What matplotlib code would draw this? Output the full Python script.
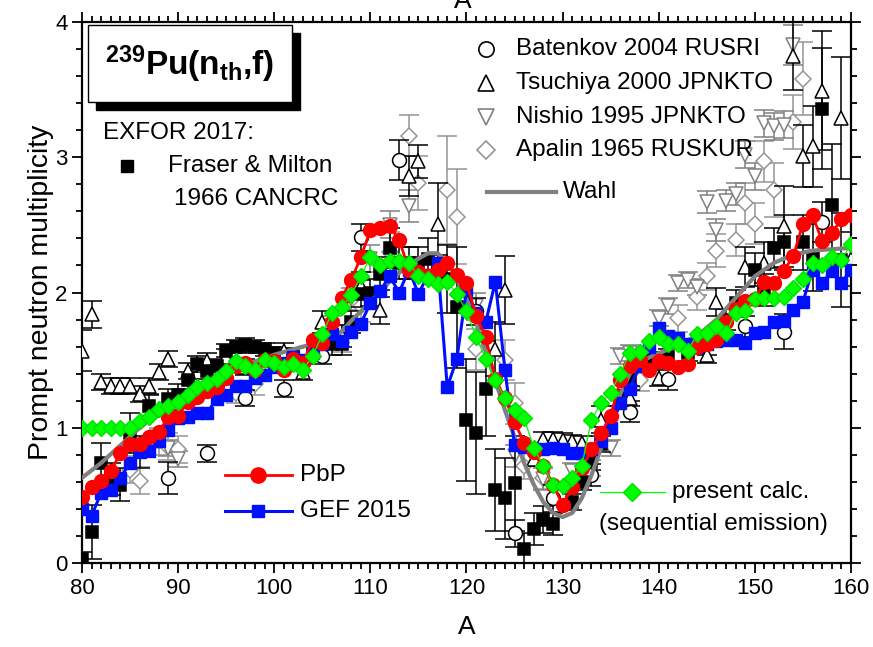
import matplotlib
matplotlib.use("Agg")
import matplotlib.pyplot as plt
from matplotlib.patches import Rectangle

plt.rcParams["font.family"] = ["Liberation Sans", "DejaVu Sans"]
plt.rcParams["mathtext.fontset"] = "custom"
plt.rcParams["mathtext.rm"] = "Liberation Sans"
plt.rcParams["mathtext.bf"] = "Liberation Sans:bold"

# ---- experimental data (EXFOR) ----
FRASER_A = [80, 81, 82, 83, 84, 85, 86, 87, 89, 90, 91, 92, 93, 94, 95, 96, 97, 98, 99, 100,
            102, 104, 106, 107, 108, 109, 110, 111, 112, 113, 114, 115, 116, 118, 119, 120,
            121, 122, 123, 124, 125, 126, 127, 128, 129, 131, 132, 133, 134, 136, 137, 139,
            141, 143, 145, 147, 148, 150, 151, 152, 153, 155, 156, 157, 158, 159]
FRASER_V = [0.03, 0.23, 0.74, 0.62, 0.58, 0.96, 0.82, 1.16, 1.21, 1.24, 1.35, 1.47, 1.42, 1.46,
            1.57, 1.60, 1.61, 1.60, 1.58, 1.55, 1.54, 1.55, 1.62, 1.62, 1.78, 1.99, 2.00, 2.14,
            2.33, 2.22, 2.22, 2.22, 2.25, 2.10, 1.89, 1.06, 0.96, 1.29, 0.54, 0.48, 0.59, 0.10,
            0.25, 0.32, 0.29, 0.45, 0.60, 0.75, 0.88, 1.22, 1.37, 1.50, 1.52, 1.55, 1.62, 1.80,
            1.92, 2.17, 2.02, 2.33, 2.37, 2.37, 2.26, 3.36, 2.65, 2.24]
FRASER_E = [0.05, 0.20, 0.15, 0.12, 0.12, 0.15, 0.12, 0.08, 0.08, 0.08, 0.06, 0.06, 0.06, 0.05,
            0.05, 0.05, 0.05, 0.05, 0.05, 0.05, 0.05, 0.05, 0.08, 0.08, 0.08, 0.10, 0.10, 0.12,
            0.15, 0.12, 0.12, 0.12, 0.15, 0.25, 0.45, 0.45, 0.45, 0.35, 0.30, 0.30, 0.35, 0.12,
            0.12, 0.10, 0.08, 0.06, 0.06, 0.06, 0.06, 0.06, 0.06, 0.06, 0.06, 0.06, 0.08, 0.08,
            0.10, 0.12, 0.12, 0.15, 0.20, 0.20, 0.25, 0.45, 0.45, 0.35]

BATENKOV_A = [89, 93, 97, 101, 105, 109, 113, 117, 121, 125, 129, 133, 137, 141, 149, 153, 157]
BATENKOV_V = [0.63, 0.81, 1.22, 1.29, 1.53, 2.41, 2.98, 2.18, 1.86, 0.22, 0.48, 0.65, 1.12,
              1.36, 1.75, 1.71, 2.52]
BATENKOV_E = [0.12, 0.06, 0.06, 0.06, 0.06, 0.10, 0.15, 0.10, 0.10, 0.10, 0.10, 0.08, 0.08,
              0.08, 0.08, 0.13, 0.15]

TSUCHIYA_A = [80, 81, 82, 83, 84, 85, 86, 87, 88, 89, 91, 93, 95, 97, 99, 101, 103, 105, 107,
              109, 111, 114, 115, 117, 123, 124, 127, 128, 129, 130, 131, 132, 134, 137, 140,
              145, 146, 149, 151, 153, 154, 155, 156, 157, 159, 160]
TSUCHIYA_V = [1.57, 1.84, 1.34, 1.31, 1.31, 1.31, 1.25, 1.31, 1.41, 1.51, 1.42, 1.49, 1.52,
              1.45, 1.53, 1.57, 1.41, 1.78, 1.68, 2.05, 1.87, 2.86, 2.97, 2.51, 1.58, 2.02,
              0.77, 0.92, 0.92, 0.91, 0.90, 0.89, 1.06, 1.22, 1.37, 1.54, 1.93, 2.19, 2.22,
              2.49, 3.75, 3.01, 3.08, 3.49, 3.29, 2.25]
TSUCHIYA_E = [0.15, 0.10, 0.06, 0.06, 0.06, 0.06, 0.06, 0.06, 0.06, 0.06, 0.06, 0.06, 0.06,
              0.06, 0.06, 0.06, 0.06, 0.08, 0.08, 0.10, 0.10, 0.15, 0.12, 0.30, 0.20, 0.25,
              0.05, 0.05, 0.05, 0.05, 0.05, 0.05, 0.10, 0.06, 0.06, 0.06, 0.10, 0.15, 0.15,
              0.30, 0.25, 0.23, 0.30, 0.44, 0.45, 0.20]

NISHIO_A = [88, 89, 90, 106, 108, 110, 112, 114, 121, 125, 128, 131, 133, 135, 136, 137, 140,
            141, 142, 143, 144, 145, 146, 147, 148, 149, 150, 151, 152, 153, 154]
NISHIO_V = [0.92, 0.85, 0.77, 1.75, 1.95, 2.25, 2.50, 2.64, 1.90, 0.79, 0.62, 0.68, 0.70, 0.85,
            1.53, 1.55, 1.81, 1.90, 2.07, 2.09, 2.04, 2.67, 2.46, 2.68, 2.73, 3.02, 2.86, 3.25,
            3.23, 3.24, 3.83]
NISHIO_E = [0.06, 0.06, 0.06, 0.08, 0.08, 0.10, 0.10, 0.12, 0.10, 0.08, 0.08, 0.06, 0.06, 0.06,
            0.06, 0.06, 0.06, 0.06, 0.06, 0.06, 0.06, 0.08, 0.08, 0.08, 0.08, 0.10, 0.10, 0.10,
            0.10, 0.10, 0.15]

APALIN_A = [85, 86, 88, 89, 90, 96, 98, 107, 109, 112, 114, 115, 118, 119, 121, 124, 125, 126,
            128, 138, 142, 144, 145, 146, 148, 149, 150, 151, 152, 154, 155]
APALIN_V = [0.69, 0.61, 0.90, 0.86, 0.84, 1.26, 1.32, 1.66, 1.90, 2.30, 3.16, 2.81, 2.76, 2.56,
            1.58, 1.50, 1.18, 0.72, 0.63, 1.35, 1.81, 1.97, 2.12, 2.31, 2.39, 2.66, 2.51, 2.97,
            2.76, 3.26, 3.58]
APALIN_E = [0.10, 0.10, 0.10, 0.10, 0.10, 0.08, 0.08, 0.10, 0.12, 0.15, 0.15, 0.20, 0.40, 0.35,
            0.15, 0.15, 0.15, 0.10, 0.08, 0.08, 0.10, 0.10, 0.10, 0.12, 0.12, 0.15, 0.15, 0.15,
            0.20, 0.20, 0.27]

# ---- Wahl systematics ----
WAHL_A = [80, 82, 84, 86, 88, 90, 92, 94, 96, 98, 100, 102, 104, 106, 107, 108, 110, 112, 114,
          116, 117, 118, 119, 120, 121, 122, 123, 124, 125, 126, 127, 128, 129, 130, 131, 132,
          133, 134, 135, 136, 137, 138, 139, 140, 142, 144, 146, 148, 150, 152, 154, 156, 158, 160]
WAHL_V = [0.63, 0.74, 0.87, 1.00, 1.11, 1.21, 1.29, 1.36, 1.43, 1.49, 1.54, 1.58, 1.62, 1.66,
          1.71, 1.79, 1.93, 2.08, 2.21, 2.29, 2.29, 2.22, 2.10, 1.95, 1.78, 1.56, 1.35, 1.13,
          0.93, 0.74, 0.58, 0.45, 0.37, 0.34, 0.37, 0.48, 0.65, 0.85, 1.05, 1.25, 1.40, 1.48,
          1.52, 1.55, 1.61, 1.68, 1.80, 1.96, 2.12, 2.22, 2.28, 2.31, 2.32, 2.33]

# ---- calculations (A = 80..160) ----
CALC_A = list(range(80, 161))
PBP_V = [0.49, 0.56, 0.61, 0.68, 0.81, 0.88, 0.88, 0.93, 0.97, 1.08, 1.09, 1.19, 1.23, 1.27,
         1.30, 1.37, 1.46, 1.48, 1.43, 1.50, 1.49, 1.43, 1.51, 1.48, 1.65, 1.63, 1.78, 1.96,
         2.09, 2.26, 2.46, 2.48, 2.49, 2.39, 2.17, 2.15, 2.12, 2.17, 2.22, 2.13, 2.07, 1.83,
         1.67, 1.36, 1.22, 1.04, 0.89, 0.82, 0.72, 0.58, 0.43, 0.56, 0.70, 0.84, 0.96, 1.09,
         1.35, 1.46, 1.50, 1.43, 1.49, 1.48, 1.45, 1.47, 1.60, 1.62, 1.65, 1.78, 1.88, 1.94,
         1.95, 2.08, 2.07, 2.16, 2.27, 2.51, 2.57, 2.38, 2.44, 2.54, 2.57]
GEF_V = [0.40, 0.35, 0.52, 0.54, 0.63, 0.74, 0.82, 0.83, 0.90, 0.98, 1.07, 1.08, 1.11, 1.11,
         1.21, 1.24, 1.31, 1.31, 1.37, 1.39, 1.45, 1.48, 1.52, 1.50, 1.55, 1.62, 1.69, 1.64,
         1.71, 1.77, 1.92, 2.01, 2.12, 2.00, 2.17, 1.99, 2.13, 2.22, 1.30, 1.51, 2.02, 1.85,
         1.78, 2.08, 1.43, 0.87, 0.86, 0.84, 0.84, 0.85, 0.84, 0.81, 0.81, 0.84, 0.90, 1.00,
         1.18, 1.29, 1.46, 1.60, 1.74, 1.68, 1.66, 1.62, 1.60, 1.62, 1.64, 1.65, 1.65, 1.63,
         1.70, 1.71, 1.78, 1.79, 1.87, 1.93, 2.17, 2.07, 2.16, 2.07, 2.17]
PRESENT_V = [1.00, 1.00, 1.00, 1.00, 1.00, 1.00, 1.05, 1.08, 1.14, 1.16, 1.19, 1.24, 1.30, 1.33,
             1.36, 1.42, 1.49, 1.46, 1.43, 1.50, 1.48, 1.45, 1.47, 1.43, 1.53, 1.69, 1.85, 1.89,
             1.98, 2.12, 2.26, 2.20, 2.23, 2.23, 2.22, 2.12, 2.10, 2.06, 2.08, 1.99, 1.86, 1.67,
             1.51, 1.35, 1.22, 1.13, 1.07, 0.85, 0.72, 0.58, 0.57, 0.63, 0.72, 1.06, 1.18, 1.26,
             1.40, 1.55, 1.56, 1.64, 1.67, 1.62, 1.62, 1.57, 1.69, 1.70, 1.75, 1.70, 1.85, 1.86,
             1.95, 1.96, 1.96, 1.97, 2.03, 2.10, 2.22, 2.20, 2.26, 2.24, 2.36]

GRAY_N = "#808080"
GRAY_A = "#959595"
NARROW = ["Liberation Sans Narrow", "Liberation Sans"]

fig = plt.figure(figsize=(8.73, 6.47), dpi=100)
ax = fig.add_axes([0.0939, 0.1298, 0.8809, 0.8362])

eb = dict(linestyle="none", capsize=7, elinewidth=1.1, capthick=1.1, markersize=10,
          markeredgewidth=1.1, markerfacecolor="white")
ax.errorbar(APALIN_A, APALIN_V, yerr=APALIN_E, fmt="D", color=GRAY_A, ecolor=GRAY_A,
            zorder=2, **{**eb, "markersize": 8.5})
ax.errorbar(NISHIO_A, NISHIO_V, yerr=NISHIO_E, fmt="v", color=GRAY_N, ecolor=GRAY_N,
            zorder=2, **eb)
ax.errorbar(TSUCHIYA_A, TSUCHIYA_V, yerr=TSUCHIYA_E, fmt="^", color="black", ecolor="black",
            zorder=3, **eb)
ax.errorbar(BATENKOV_A, BATENKOV_V, yerr=BATENKOV_E, fmt="o", color="black", ecolor="black",
            zorder=3, **eb)
ax.errorbar(FRASER_A, FRASER_V, yerr=FRASER_E, fmt="s", color="black", ecolor="black",
            zorder=3, **{**eb, "markerfacecolor": "black", "markersize": 8})

ax.plot(WAHL_A, WAHL_V, color="#808080", linewidth=3, zorder=4)
ax.plot(CALC_A, GEF_V, color="#0010ff", linewidth=2.2, marker="s", markersize=8, zorder=5)
ax.plot(CALC_A, PBP_V, color="#ff0000", linewidth=2, marker="o", markersize=10, zorder=6)
ax.plot(CALC_A, PRESENT_V, color="#00ff00", linewidth=0.9, marker="D", markersize=8.5,
        markeredgecolor="#00e000", zorder=7)

ax.set_xlim(80, 160)
ax.set_ylim(0, 4)
ax.set_xticks(range(80, 161, 10))
ax.set_xticks(range(80, 161, 1), minor=True)
ax.set_yticks([0, 1, 2, 3, 4])
ax.set_yticks([i * 0.2 for i in range(21)], minor=True)
ax.tick_params(which="both", direction="out", top=True, right=True, width=1.3)
ax.tick_params(which="major", length=7, labelsize=16)
ax.tick_params(which="minor", length=4)
for s in ax.spines.values():
    s.set_linewidth(1.6)
for lab in ax.get_xticklabels() + ax.get_yticklabels():
    lab.set_family(NARROW)

ax.set_xlabel("A", fontsize=19, family=NARROW, labelpad=12)
ax.set_ylabel("Prompt neutron multiplicity", fontsize=20.5, labelpad=1)
fig.text(0.53, 0.988, "A", fontsize=19, ha="center", va="baseline", family=NARROW)

# title box with drop shadow
T = ax.transAxes
ax.add_patch(Rectangle((0.0185, 0.837), 0.2645, 0.142, transform=T, facecolor="black",
                       edgecolor="black", clip_on=False, zorder=9))
ax.add_patch(Rectangle((0.0082, 0.852), 0.2645, 0.142, transform=T, facecolor="white",
                       edgecolor="black", linewidth=1.0, clip_on=False, zorder=10))
ax.text(0.140, 0.921, r"$\mathbf{^{239}Pu(n_{th}{,}f)}$", transform=T, fontsize=24,
        ha="center", va="center", zorder=11)

# legends built by hand
fs = 17.5
ax.text(0.027, 0.795, "EXFOR 2017:", transform=T, fontsize=fs, va="center")
ax.plot([0.0585], [0.734], "s", color="black", markersize=8.5, transform=T, clip_on=False)
ax.text(0.112, 0.734, "Fraser & Milton", transform=T, fontsize=fs, va="center")
ax.text(0.120, 0.673, "1966 CANCRC", transform=T, fontsize=fs, va="center")

for y, mk, col, lab in [
    (0.950, "o", "black", "Batenkov 2004 RUSRI"),
    (0.887, "^", "black", "Tsuchiya 2000 JPNKTO"),
    (0.824, "v", GRAY_N, "Nishio 1995 JPNKTO"),
    (0.763, "D", GRAY_A, "Apalin 1965 RUSKUR"),
]:
    ax.plot([0.525], [y], mk, color=col, markerfacecolor="white", markeredgewidth=1.2,
            markersize=9 if mk == "D" else 11, transform=T)
    ax.text(0.565, y, lab, transform=T, fontsize=fs, va="center")
ax.plot([0.527, 0.616], [0.686, 0.686], color="#808080", linewidth=3, transform=T)
ax.text(0.625, 0.686, "Wahl", transform=T, fontsize=fs, va="center")

ax.plot([0.186, 0.273], [0.163, 0.163], color="#ff0000", linewidth=2, transform=T)
ax.plot([0.229], [0.163], "o", color="#ff0000", markersize=11, transform=T)
ax.text(0.283, 0.163, "PbP", transform=T, fontsize=fs, va="center")
ax.plot([0.186, 0.273], [0.096, 0.096], color="#0010ff", linewidth=2.2, transform=T)
ax.plot([0.229], [0.096], "s", color="#0010ff", markersize=8.5, transform=T)
ax.text(0.283, 0.096, "GEF 2015", transform=T, fontsize=fs, va="center")

ax.plot([0.674, 0.758], [0.131, 0.131], color="#00ff00", linewidth=0.9, transform=T)
ax.plot([0.715], [0.131], "D", color="#00ff00", markeredgecolor="#00e000", markersize=9,
        transform=T)
ax.text(0.767, 0.131, "present calc.", transform=T, fontsize=fs, va="center")
ax.text(0.672, 0.072, "(sequential emission)", transform=T, fontsize=fs, va="center")

fig.savefig("out.png", dpi=100)
